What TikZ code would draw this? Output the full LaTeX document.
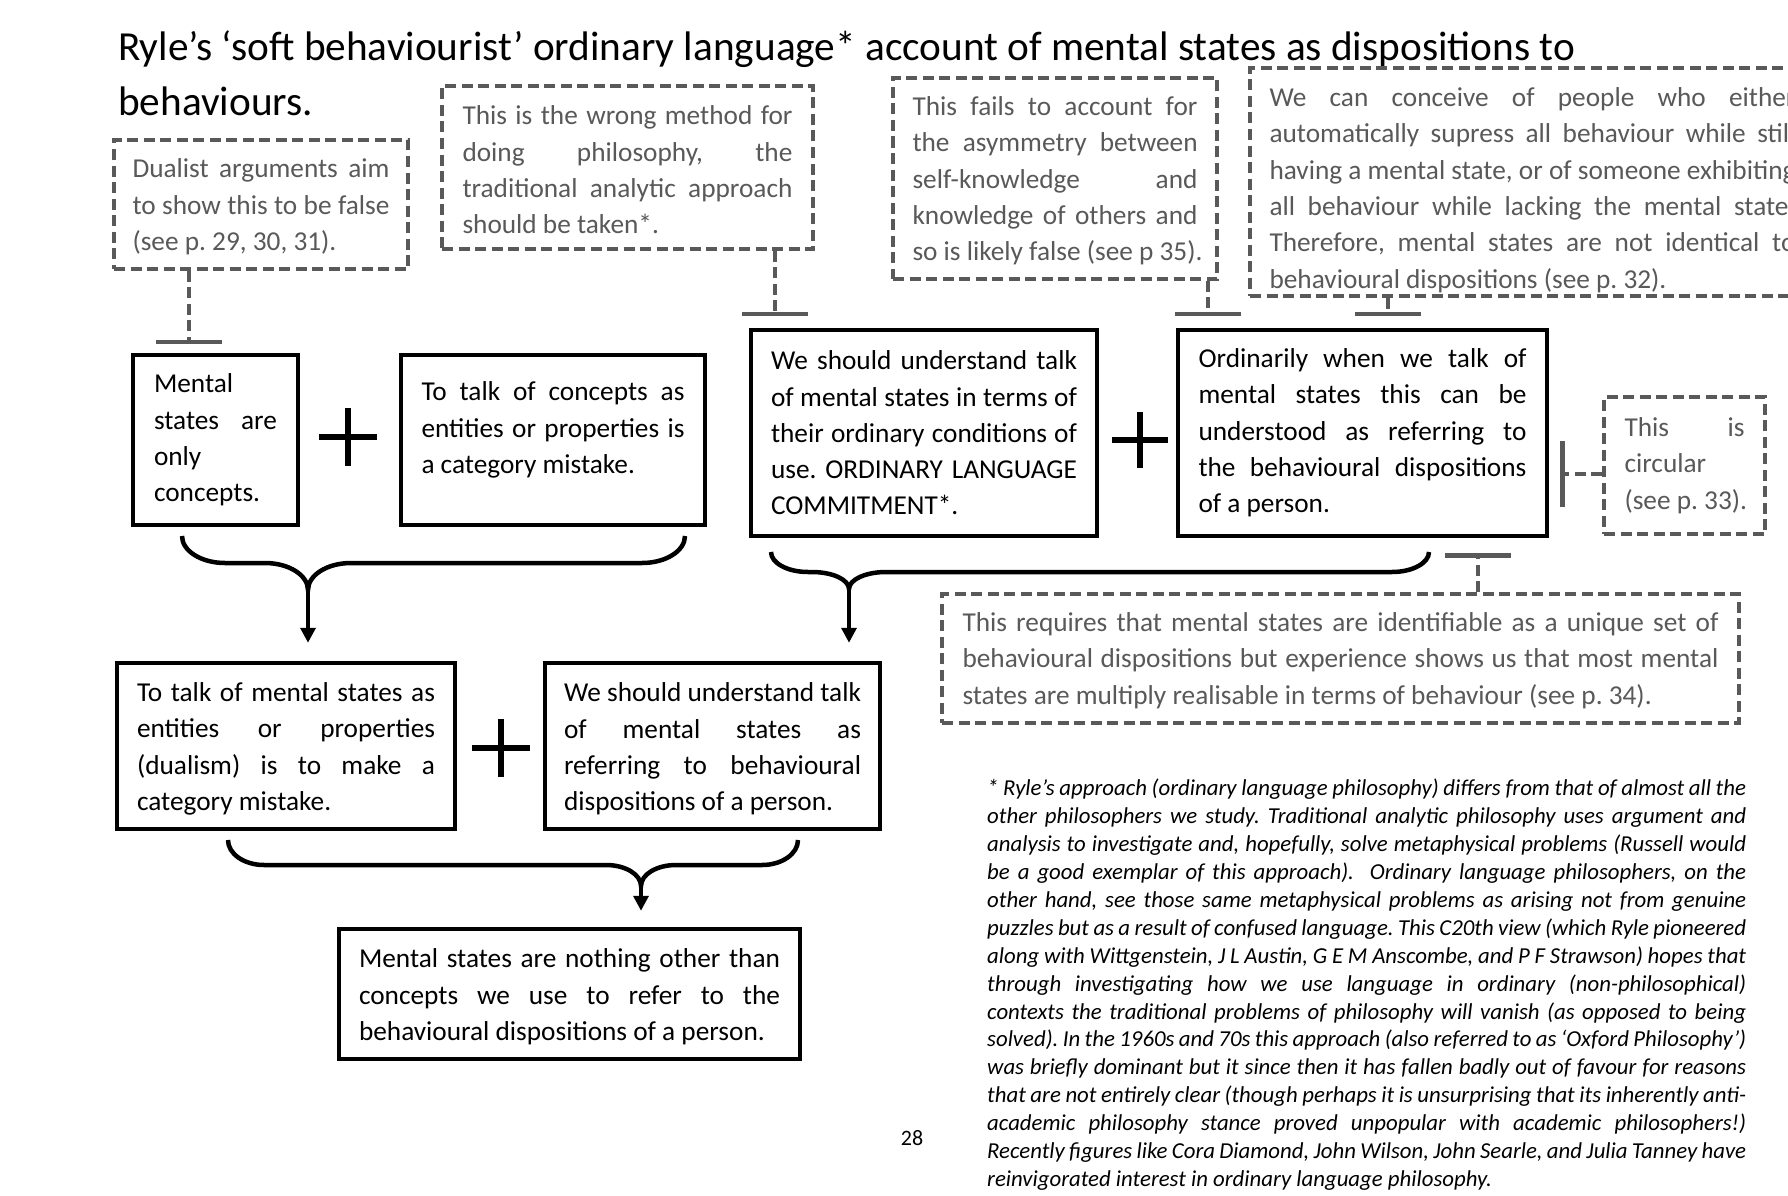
\documentclass[tikz,border=0pt]{standalone}
\usepackage{fontspec}
\setmainfont{Carlito}
\usetikzlibrary{arrows.meta}
\setlength{\parindent}{0pt}
\setlength{\parskip}{0pt}
\frenchspacing
\definecolor{dgray}{HTML}{595959}
\newcommand\mySp{\spaceskip=0.226em plus 0.1em minus 0.05em\relax}
\newcommand\myBody{\fontsize{27.3pt}{36.3pt}\selectfont\mySp}
\newcommand\myTitle{\fontsize{41.3pt}{55pt}\selectfont\mySp}
\newcommand\myNote{\fontsize{22.8pt}{27.9pt}\selectfont\itshape\mySp}
\newcommand\myNum{\fontsize{22pt}{28pt}\selectfont}
% justified line, left (last) line, vertical text offset (negative moves text down)
\newcommand\J[1]{\noindent\hbox to\hsize{\spaceskip=0.226em plus 1fil minus 0.1em\relax #1}\par}
\newcommand\Lf[1]{\noindent\hbox{\mySp #1}\par}
\newcommand\Sh[1]{\kern#1pt\hrule height 0pt depth 0pt width 0pt}
\newcommand\mybrace[8]{%
\draw[bracestyle] ({#1},{#3}) .. controls ({#1},{#3+0.552*(#4-#3)}) and ({#1+#6-0.552*#6},{#4}) .. ({#1+#6},{#4})
 -- ({#5-#7},{#4}) .. controls ({#5-#7+0.552*#7},{#4}) and ({#5},{#4+#8-0.552*#8}) .. ({#5},{#4+#8})
 .. controls ({#5},{#4+#8-0.552*#8}) and ({#5+#7-0.552*#7},{#4}) .. ({#5+#7},{#4})
 -- ({#2-#6},{#4}) .. controls ({#2-#6+0.552*#6},{#4}) and ({#2},{#3+0.552*(#4-#3)}) .. ({#2},{#3});}
\tikzset{
 solidbox/.style={draw=black, line width=4.5pt, inner sep=0pt, font=\myBody, text=black},
 dashbox/.style={draw=dgray, line width=3.5pt, dash pattern=on 11pt off 5.5pt, inner sep=0pt, font=\myBody, text=dgray},
 conn/.style={draw=dgray, line width=3.5pt, dash pattern=on 11pt off 5.5pt, -{Bar[width=66pt,line width=4.5pt]}},
 bracestyle/.style={draw=black, line width=4.5pt},
 flow/.style={draw=black, line width=3.5pt, -{Triangle[length=15pt,width=15pt]}},
 plusline/.style={draw=black, line width=5.5pt},
}
\begin{document}
\begin{tikzpicture}[x=1pt,y=-1pt]
\useasboundingbox (0,0) rectangle (1788,1196);
\clip (0,0) rectangle (1788,1196);
\fill[white] (0,0) rectangle (1788,1196);

% title
\node[anchor=base west, inner sep=0pt, font=\myTitle] (title1) at (118,60.5) {Ryle’s ‘soft behaviourist’ ordinary language* account of mental states as dispositions to};
\node[anchor=base west, inner sep=0pt, font=\myTitle] (title2) at (118,115.5) {behaviours.};

% dashed objection boxes
\node[dashbox, minimum width=294pt, minimum height=129pt, text width=257pt] (d1) at (261,204.5)
 {\J{Dualist arguments aim}\J{to show this to be false}\Lf{(see p. 29, 30, 31).}\Sh{-5}};
\node[dashbox, minimum width=371pt, minimum height=163pt, text width=330pt] (d2) at (627.5,167.5)
 {\J{This is the wrong method for}\J{doing philosophy, the}\J{traditional analytic approach}\Lf{should be taken*.}\Sh{-5}};
\node[dashbox, minimum width=324pt, minimum height=201pt, text width=285pt] (d3) at (1055,178.5)
 {\J{This fails to account for}\J{the asymmetry between}\J{self-knowledge and}\J{knowledge of others and}\Lf{so is likely false (see p 35).}\Sh{-5}};
\node[dashbox, minimum width=565pt, minimum height=228pt, text width=526pt] (d4) at (1532.5,182)
 {\J{We can conceive of people who either}\J{automatically supress all behaviour while still}\J{having a mental state, or of someone exhibiting}\J{all behaviour while lacking the mental state.}\J{Therefore, mental states are not identical to}\Lf{behavioural dispositions (see p. 32).}\Sh{-16}};
\node[dashbox, minimum width=161pt, minimum height=137pt, text width=120pt] (d5) at (1684.5,465.5)
 {\J{This is}\Lf{circular}\Lf{(see p. 33).}};
\node[dashbox, minimum width=797pt, minimum height=129pt, text width=756pt] (d6) at (1340.5,658.5)
 {\J{This requires that mental states are identifiable as a unique set of}\J{behavioural dispositions but experience shows us that most mental}\Lf{states are multiply realisable in terms of behaviour (see p. 34).}\Sh{-4}};

% solid claim boxes
\node[solidbox, minimum width=165pt, minimum height=170pt, text width=123pt] (s1) at (215.5,440)
 {\Lf{Mental}\J{states are}\Lf{only}\Lf{concepts.}};
\node[solidbox, minimum width=304pt, minimum height=170pt, text width=263pt] (s2) at (553,440)
 {\J{To talk of concepts as}\J{entities or properties is}\Lf{a category mistake.}\Sh{20}};
\node[solidbox, minimum width=346pt, minimum height=206pt, text width=306pt] (s3) at (924,433)
 {\J{We should understand talk}\J{of mental states in terms of}\J{their ordinary conditions of}\J{use. ORDINARY LANGUAGE}\Lf{COMMITMENT*.}};
\node[solidbox, minimum width=369pt, minimum height=206pt, text width=328pt] (s4) at (1362.5,433)
 {\J{Ordinarily when we talk of}\J{mental states this can be}\J{understood as referring to}\J{the behavioural dispositions}\Lf{of a person.}};
\node[solidbox, minimum width=338pt, minimum height=166pt, text width=298pt] (s5) at (286,746)
 {\J{To talk of mental states as}\J{entities or properties}\J{(dualism) is to make a}\Lf{category mistake.}\Sh{-6}};
\node[solidbox, minimum width=335pt, minimum height=166pt, text width=297pt] (s6) at (712.5,746)
 {\J{We should understand talk}\J{of mental states as}\J{referring to behavioural}\Lf{dispositions of a person.}\Sh{-6}};
\node[solidbox, minimum width=461pt, minimum height=130pt, text width=421pt] (s7) at (569.5,994)
 {\J{Mental states are nothing other than}\J{concepts we use to refer to the}\Lf{behavioural dispositions of a person.}\Sh{-6}};

% plus signs
\draw[plusline] (319,437) -- (377,437) (348,408) -- (348,466);
\draw[plusline] (1112,440) -- (1168,440) (1140,412) -- (1140,468);
\draw[plusline] (472,748) -- (530,748) (501,719) -- (501,777);

% objection connectors
\coordinate (t1) at (189,344);
\coordinate (t2) at (775,316);
\coordinate (t3) at (1208,316);
\coordinate (t4) at (1388,316);
\coordinate (t5) at (1560,474);
\coordinate (t6) at (1478,553);
\draw[conn] (d1.south -| t1) -- (t1);
\draw[conn] (d2.south -| t2) -- (t2);
\draw[conn] (d3.south -| t3) -- (t3);
\draw[conn] (d4.south -| t4) -- (t4);
\draw[conn] (d5.west |- t5) -- (t5);
\draw[conn] (d6.north -| t6) -- (t6);

% braces and inference arrows
\mybrace{182}{685}{536}{563}{308}{43}{43}{27}
\mybrace{771}{1429}{552}{572}{849}{37}{37}{17}
\mybrace{228}{798}{840}{865}{641}{36}{35}{21}
\coordinate (c1) at (308,590);
\coordinate (c2) at (849,589);
\coordinate (c3) at (641,886);
\draw[flow, shorten >=18pt] (c1) -- (s5.north -| c1);
\draw[flow, shorten >=18pt] (c2) -- (s6.north -| c2);
\draw[flow, shorten >=16pt] (c3) -- (s7.north -| c3);

% page number and footnote
\node[font=\myNum, inner sep=0pt] (pg) at (912,1138) {28};
\node[anchor=north west, inner sep=0pt, text width=759pt, font=\myNote] (note) at (987,779)
 {\J{* Ryle’s approach (ordinary language philosophy) differs from that of almost all the}%
\J{other philosophers we study. Traditional analytic philosophy uses argument and}%
\J{analysis to investigate and, hopefully, solve metaphysical problems (Russell would}%
\J{be a good exemplar of this approach).~ Ordinary language philosophers, on the}%
\J{other hand, see those same metaphysical problems as arising not from genuine}%
\J{puzzles but as a result of confused language. This C20th view (which Ryle pioneered}%
\J{along with Wittgenstein, J L Austin, G E M Anscombe, and P F Strawson) hopes that}%
\J{through investigating how we use language in ordinary (non-philosophical)}%
\J{contexts the traditional problems of philosophy will vanish (as opposed to being}%
\J{solved). In the 1960s and 70s this approach (also referred to as ‘Oxford Philosophy’)}%
\J{was briefly dominant but it since then it has fallen badly out of favour for reasons}%
\J{that are not entirely clear (though perhaps it is unsurprising that its inherently anti-}%
\J{academic philosophy stance proved unpopular with academic philosophers!)}%
\J{Recently figures like Cora Diamond, John Wilson, John Searle, and Julia Tanney have}%
\Lf{reinvigorated interest in ordinary language philosophy.}};
\end{tikzpicture}
\end{document}
